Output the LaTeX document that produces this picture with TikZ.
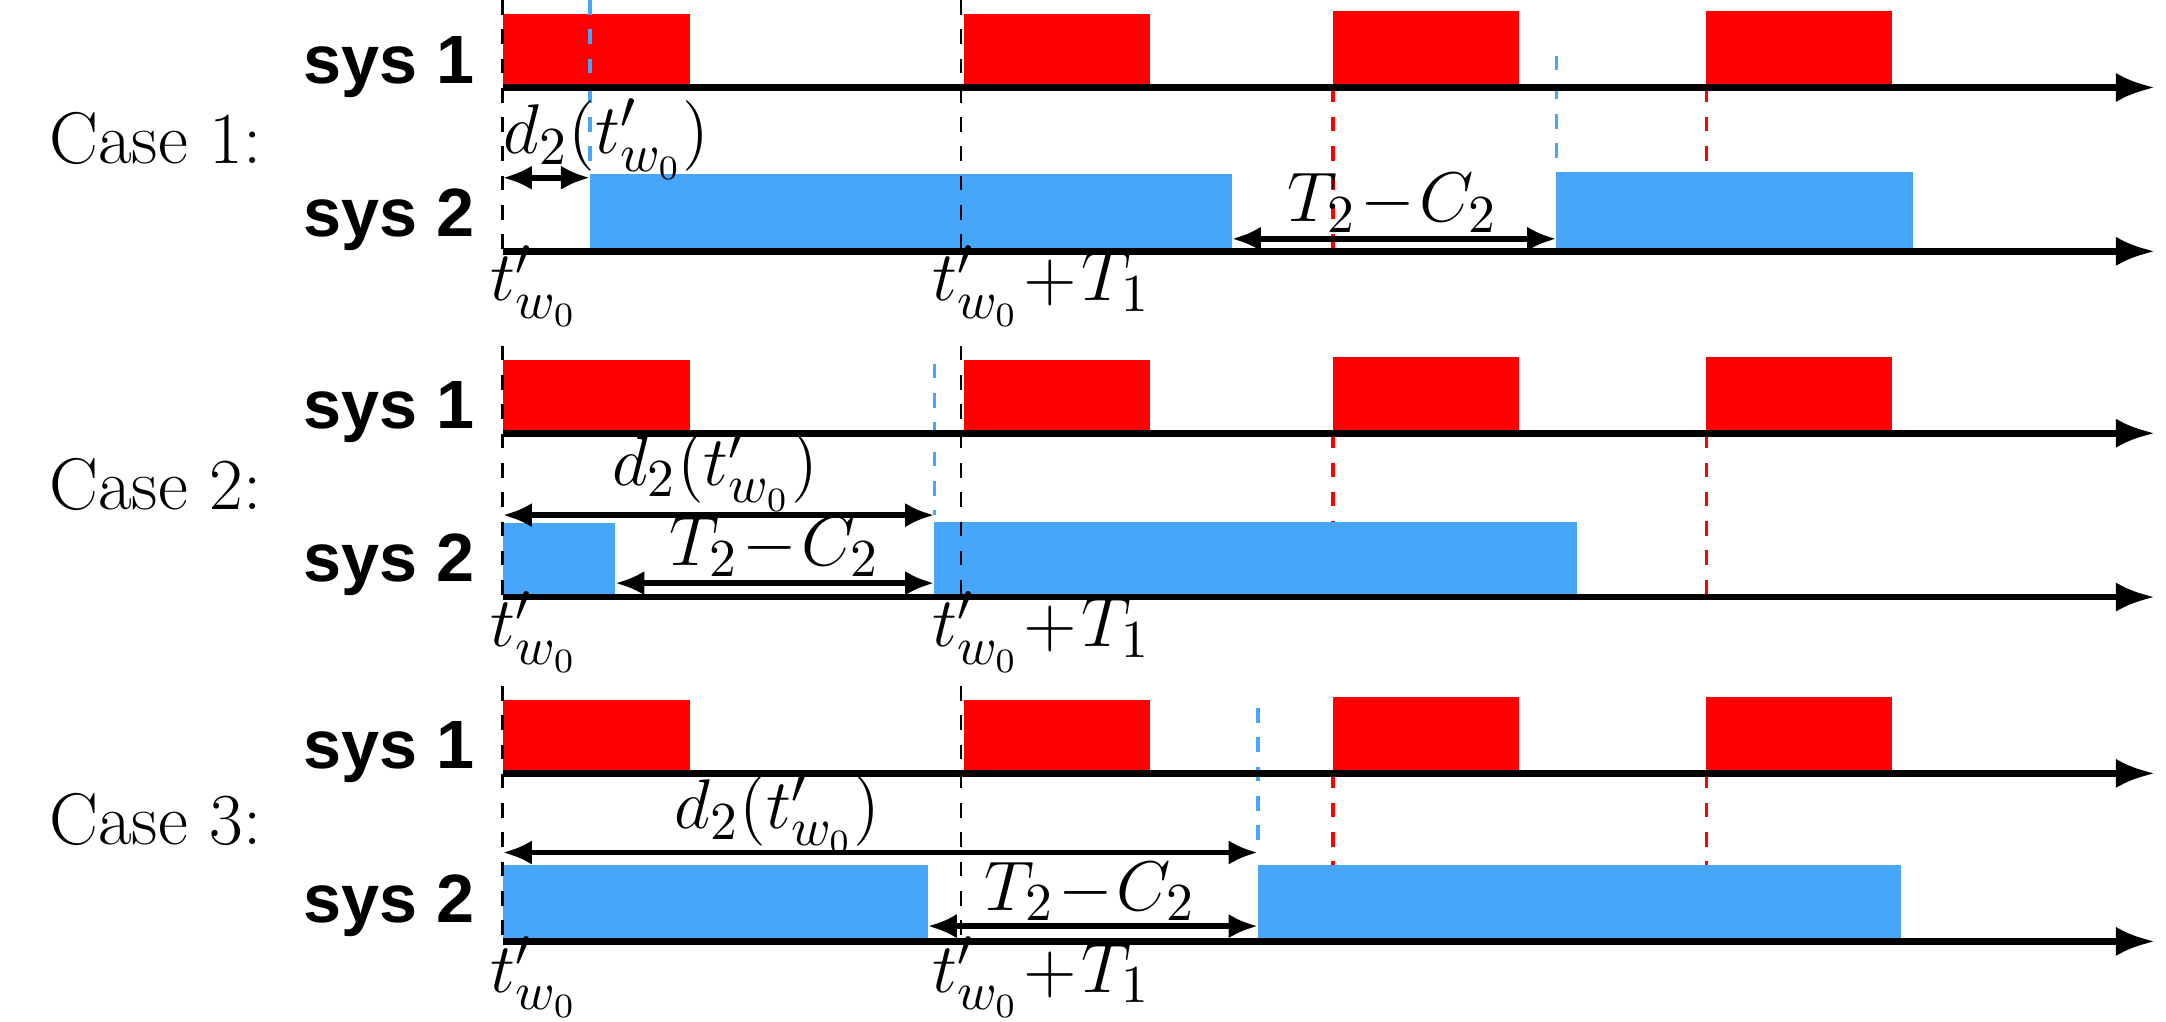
\documentclass[tikz,border=0pt]{standalone}
\usepackage{fontspec}
\setsansfont{Liberation Sans}
\usepackage{amsmath}
\usetikzlibrary{arrows.meta}
\definecolor{sysred}{RGB}{255,0,0}
\definecolor{sysblue}{RGB}{72,166,250}
\tikzset{
  axisline/.style={line width=1.4pt,-{Latex[length=8pt,width=6pt]}},
  spanline/.style={line width=1.2pt,{Latex[length=6pt,width=5pt]}-{Latex[length=6pt,width=5pt]}},
  blackdash/.style={dashed,line width=0.5pt,black},
  bluedash/.style={dashed,line width=0.7pt,sysblue},
  reddash/.style={dashed,line width=0.7pt,sysred},
  casetext/.style={font=\fontsize{15}{18}\selectfont},
  systext/.style={font=\sffamily\bfseries\fontsize{14}{17}\selectfont},
  mathtext/.style={font=\fontsize{15}{18}\selectfont}
}
\begin{document}
\begin{tikzpicture}[x=0.01cm,y=-0.01cm]
\useasboundingbox (0,0) rectangle (1560,736);
\def\redbars{
\fill[sysred] (362,10) rectangle (497,63);
\fill[sysred] (694,10) rectangle (828,63);
\fill[sysred] (960,8) rectangle (1094,63);
\fill[sysred] (1229,8) rectangle (1363,63);
}
\def\axes{
\draw[axisline] (362,63) -- (1552,63);
\draw[axisline] (362,181) -- (1552,181);
\node[systext] at (280,48) {sys 1};
\node[systext] at (280,158) {sys 2};
}
\begin{scope}[shift={(0,0)}] % CASE 1
\redbars
\fill[sysblue] (425,125) rectangle (887,181);
\fill[sysblue] (1121,124) rectangle (1378,181);
\draw[blackdash] (362,0) -- (362,181);
\draw[blackdash] (692,0) -- (692,181);
\draw[bluedash] (425,0) -- (425,125);
\draw[bluedash] (1121,40) -- (1121,124);
\draw[reddash] (960,63) -- (960,181);
\draw[reddash] (1229,63) -- (1229,124);
\axes
\coordinate (da) at (362,128); \coordinate (db) at (425,128);
\draw[spanline] (da) -- (db);
\coordinate (ta) at (887,172); \coordinate (tb) at (1121,172);
\draw[spanline] (ta) -- (tb);
\node[casetext] at (112,100) {Case 1:};
\node[mathtext] at (437,100) {$d_2(t'_{w_0})$};
\node[mathtext] at (1003,146) {$T_2\!-\!C_2$};
\node[mathtext] at (385,206) {$t'_{w_0}$};
\node[mathtext] at (750,206) {$t'_{w_0}\!+\!T_1$};
\end{scope}
\begin{scope}[shift={(0,249)}] % CASE 2
\redbars
\fill[sysblue] (362,128) rectangle (443,181);
\fill[sysblue] (673,127) rectangle (1136,181);
\draw[blackdash] (362,0) -- (362,181);
\draw[blackdash] (692,0) -- (692,181);
\draw[bluedash] (673,13) -- (673,122);
\draw[reddash] (960,63) -- (960,127);
\draw[reddash] (1229,63) -- (1229,181);
\axes
\coordinate (da) at (362,122); \coordinate (db) at (673,122);
\draw[spanline] (da) -- (db);
\coordinate (ta) at (443,171); \coordinate (tb) at (673,171);
\draw[spanline] (ta) -- (tb);
\node[casetext] at (112,100) {Case 2:};
\node[mathtext] at (515,90) {$d_2(t'_{w_0})$};
\node[mathtext] at (558,145) {$T_2\!-\!C_2$};
\node[mathtext] at (385,206) {$t'_{w_0}$};
\node[mathtext] at (750,206) {$t'_{w_0}\!+\!T_1$};
\end{scope}
\begin{scope}[shift={(0,494)}] % CASE 3
\redbars
\fill[sysblue] (362,129) rectangle (668,184);
\fill[sysblue] (906,129) rectangle (1369,184);
\draw[blackdash] (362,0) -- (362,184);
\draw[blackdash] (692,0) -- (692,184);
\draw[bluedash] (906,16) -- (906,120);
\draw[reddash] (960,63) -- (960,129);
\draw[reddash] (1229,63) -- (1229,129);
\draw[axisline] (362,63) -- (1552,63);
\draw[axisline] (362,184) -- (1552,184);
\node[systext] at (280,48) {sys 1};
\node[systext] at (280,158) {sys 2};
\coordinate (da) at (362,120); \coordinate (db) at (906,120);
\draw[spanline] (da) -- (db);
\coordinate (ta) at (668,173); \coordinate (tb) at (906,173);
\draw[spanline] (ta) -- (tb);
\node[casetext] at (112,96) {Case 3:};
\node[mathtext] at (560,92) {$d_2(t'_{w_0})$};
\node[mathtext] at (785,148) {$T_2\!-\!C_2$};
\node[mathtext] at (385,210) {$t'_{w_0}$};
\node[mathtext] at (750,210) {$t'_{w_0}\!+\!T_1$};
\end{scope}
\end{tikzpicture}
\end{document}
